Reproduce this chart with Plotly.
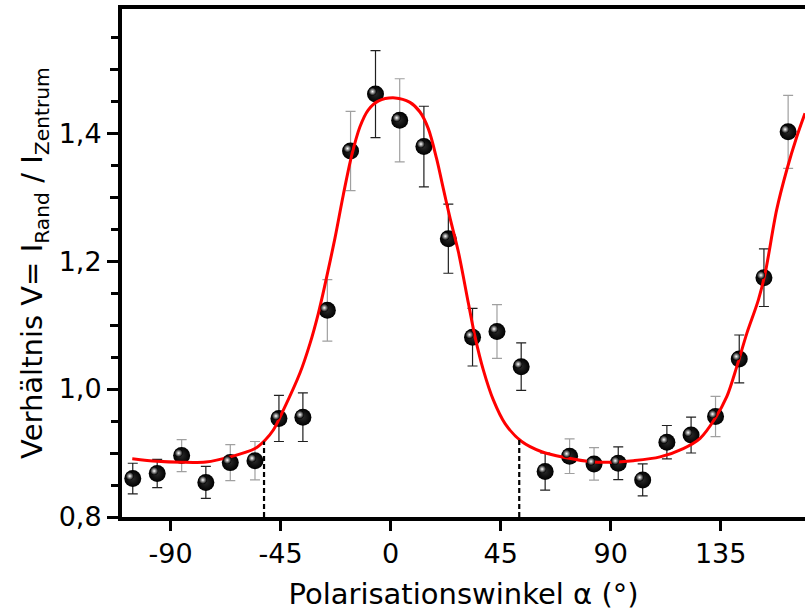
import plotly.graph_objects as go

# ---- data ----
angle = [-105.5, -95.5, -85.5, -75.6, -65.6, -55.5, -45.7, -35.9, -25.9, -16.4,
         -6.2, 3.7, 13.6, 23.6, 33.5, 43.5, 53.4, 63.2, 73.2, 83.2,
         93.1, 103.1, 113.0, 122.9, 132.9, 142.6, 152.7, 162.6]
ratio = [0.860, 0.868, 0.896, 0.854, 0.885, 0.888, 0.954, 0.956, 1.123, 1.372,
         1.461, 1.420, 1.379, 1.235, 1.081, 1.090, 1.035, 0.871, 0.895, 0.883,
         0.884, 0.858, 0.917, 0.928, 0.957, 1.047, 1.174, 1.402]
ratio_err = [0.024, 0.022, 0.025, 0.025, 0.028, 0.030, 0.036, 0.038, 0.048, 0.062,
             0.068, 0.065, 0.063, 0.054, 0.045, 0.042, 0.037, 0.029, 0.027, 0.0255,
             0.0255, 0.025, 0.026, 0.028, 0.0315, 0.0375, 0.045, 0.057]

# fit curve, values
fit_angle = [-105.7, -95.6, -85.6, -75.6, -65.6, -55.5, -51.4, -48.0, -43.9, -37.1,
             -33.0, -29.6, -26.9, -22.8, -19.4, -16.0, -12.6, -9.2, -5.1, 1.8,
             7.9, 12.0, 15.4, 18.8, 21.5, 24.3, 27.7, 31.8, 34.5, 37.9,
             42.0, 46.8, 53.6, 61.8, 71.3, 82.9, 89.7, 99.3, 110.2, 119.7,
             126.6, 132.7, 137.5, 141.6, 145.7, 150.4, 153.2, 157.9, 162.0, 166.1,
             169.5]
fit_ratio = [0.891, 0.887, 0.8855, 0.886, 0.894, 0.907, 0.920, 0.936, 0.967, 1.025,
             1.071, 1.118, 1.1625, 1.2355, 1.303, 1.364, 1.4095, 1.436, 1.450, 1.455,
             1.448, 1.433, 1.407, 1.360, 1.314, 1.267, 1.2145, 1.134, 1.082, 1.030,
             0.983, 0.946, 0.918, 0.902, 0.893, 0.886, 0.8855, 0.888, 0.894, 0.907,
             0.923, 0.954, 0.988, 1.035, 1.087, 1.139, 1.181, 1.280, 1.342, 1.394,
             1.431]

# dashed markers (half-width positions)
dash_angle = [-51.8, 52.6]
dash_top = [0.918, 0.921]

x_tickvals = [-90, -45, 0, 45, 90, 135]
x_ticktext = ["-90", "-45", "0", "45", "90", "135"]
y_tickvals = [0.8, 1.0, 1.2, 1.4]
y_ticktext = ["0,8", "1,0", "1,2", "1,4"]
y_unlabeled = [0.9, 1.1, 1.3, 1.5]
y_minorvals = [0.85, 0.95, 1.05, 1.15, 1.25, 1.35, 1.45, 1.55]

# which error bars are drawn light grey (index list, style only)
grey_err_idx = [2, 4, 5, 8, 9, 11, 15, 18, 19, 24, 27]

# ---- figure ----
XR = [-109.9, 169.5]
YR = [0.8, 1.594]
ML, MR, MT, MB = 122, 0, 9, 98
px_per_deg = (805 - ML - MR) / (XR[1] - XR[0])
px_per_unit = (615 - MB - MT) / (YR[1] - YR[0])
hx = 3.0 / px_per_deg
hy = 2.5 / px_per_unit

fig = go.Figure()

for grey in (False, True):
    idx = [i for i in range(len(angle)) if (i in grey_err_idx) == grey]
    fig.add_trace(go.Scatter(
        x=[angle[i] for i in idx], y=[ratio[i] for i in idx],
        mode="markers", marker=dict(size=1, color="rgba(0,0,0,0)"),
        error_y=dict(type="data", array=[ratio_err[i] for i in idx], visible=True,
                     color="#a0a0a0" if grey else "#202020", thickness=1.2, width=5),
        hoverinfo="skip"))

# spheres
fig.add_trace(go.Scatter(
    x=angle, y=ratio, mode="markers",
    marker=dict(size=17, color="#000000",
                gradient=dict(type="radial", color="#2a2a2a"),
                line=dict(width=0))))
# highlights on shifted overlay axes
fig.add_trace(go.Scatter(
    x=angle, y=ratio, mode="markers", xaxis="x2", yaxis="y2",
    marker=dict(size=8, color="#000000",
                gradient=dict(type="radial", color="#ffffff"),
                line=dict(width=0)),
    hoverinfo="skip"))

# fit
fig.add_trace(go.Scatter(
    x=fit_angle, y=fit_ratio, mode="lines",
    line=dict(color="#ff0000", width=3, shape="spline", smoothing=0.9),
    hoverinfo="skip"))

# dashed verticals (on overlay y3 which carries the unlabeled long ticks)
for xa, yt in zip(dash_angle, dash_top):
    fig.add_trace(go.Scatter(x=[xa, xa], y=[YR[0], yt], mode="lines", yaxis="y3",
                             line=dict(color="black", width=2.2, dash="5px,3px"),
                             hoverinfo="skip"))

fig.update_layout(
    width=805, height=615,
    margin=dict(l=ML, r=MR, t=MT, b=MB),
    plot_bgcolor="white", paper_bgcolor="white",
    showlegend=False,
    font=dict(family="DejaVu Sans", color="black"),
    xaxis=dict(range=XR, showline=True, linewidth=4, linecolor="black", mirror=True,
               showgrid=False, zeroline=False, automargin=False,
               tickmode="array", tickvals=x_tickvals, ticktext=x_ticktext,
               ticks="outside", ticklen=10, tickwidth=3, tickcolor="black",
               tickfont=dict(size=27),
               title=dict(text="Polarisationswinkel α (°)", font=dict(size=29), standoff=16)),
    yaxis=dict(range=YR, showline=True, linewidth=4, linecolor="black", mirror=False,
               showgrid=False, zeroline=False, automargin=False,
               tickmode="array", tickvals=y_tickvals, ticktext=y_ticktext,
               ticks="outside", ticklen=11, tickwidth=3, tickcolor="black",
               tickfont=dict(size=27),
               minor=dict(tickmode="array", tickvals=y_minorvals, ticks="outside",
                          ticklen=7, tickwidth=3, tickcolor="black", showgrid=False),
               title=dict(text="Verhältnis V= I<sub>Rand</sub> / I<sub>Zentrum</sub>",
                          font=dict(size=29), standoff=8)),
    yaxis3=dict(range=YR, overlaying="y", anchor="x", side="left",
                showline=False, showgrid=False, zeroline=False, automargin=False,
                tickmode="array", tickvals=y_unlabeled, showticklabels=False,
                ticks="outside", ticklen=11, tickwidth=3, tickcolor="black"),
    xaxis2=dict(range=[XR[0] + hx, XR[1] + hx], overlaying="x", anchor="y2", visible=False),
    yaxis2=dict(range=[YR[0] - hy, YR[1] - hy], overlaying="y", anchor="x2", visible=False),
)

fig.write_html("out.html", config={"displayModeBar": False},
               post_script="document.body.style.margin='0px';document.body.style.overflow='hidden';")
